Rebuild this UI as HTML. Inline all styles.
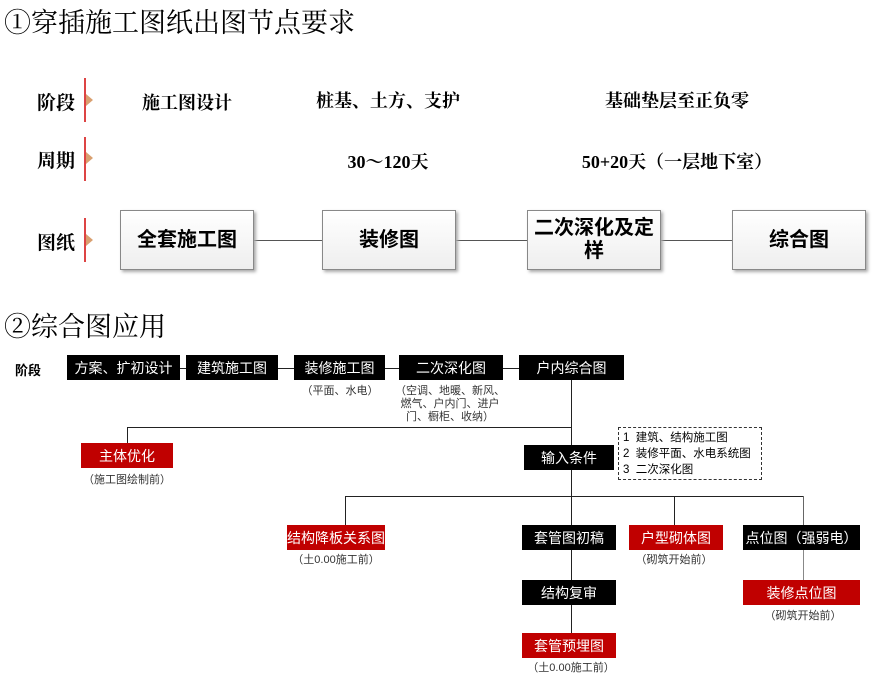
<!DOCTYPE html>
<html><head><meta charset="utf-8"><style>
*{margin:0;padding:0;box-sizing:border-box}
body{width:878px;height:682px;background:#fff;position:relative;overflow:hidden;font-family:"Liberation Sans","Noto Sans CJK SC",sans-serif;color:#000}
.a{position:absolute;white-space:nowrap}
.serif{font-family:"Liberation Serif","Noto Serif CJK SC",serif}
.t{font-size:27px;font-family:"Liberation Serif","Noto Serif CJK SC",serif}
.lab{font-size:19px;font-family:"Liberation Serif","Noto Serif CJK SC",serif;font-weight:bold}
.rl{position:absolute;width:2px;background:#d44;left:84px}
.tri{position:absolute;left:86px;width:0;height:0;border-top:6px solid transparent;border-bottom:6px solid transparent;border-left:7px solid #d9a070}
.c{transform:translateX(-50%);font-size:18px;font-weight:bold}
.bx{position:absolute;border:1px solid #888;background:linear-gradient(#fff,#eee);box-shadow:2px 2px 3px #aaa;display:flex;align-items:center;justify-content:center;text-align:center;font-weight:bold;font-size:20px;line-height:23px;top:210px;height:60px;width:134px}
.k{position:absolute;background:#000;color:#fff;font-size:14px;display:flex;align-items:center;justify-content:center;height:25px;white-space:nowrap}
.r{background:#c00000}
.n{position:absolute;font-size:11px;color:#333;transform:translateX(-50%);white-space:nowrap;text-align:center;line-height:13px}
.h{position:absolute;height:1px;background:#222}
.v{position:absolute;width:1px;background:#222}
</style></head><body>
<div class="a t" style="left:4px;top:1px">①穿插施工图纸出图节点要求</div>
<div class="a lab" style="left:37px;top:88px">阶段</div>
<div class="a lab" style="left:37px;top:146px">周期</div>
<div class="a lab" style="left:37px;top:228px">图纸</div>
<div class="rl" style="top:78px;height:44px"></div><div class="tri" style="top:94px"></div>
<div class="rl" style="top:137px;height:44px"></div><div class="tri" style="top:152px"></div>
<div class="rl" style="top:218px;height:44px"></div><div class="tri" style="top:234px"></div>
<div class="a serif c" style="left:187px;top:89px">施工图设计</div>
<div class="a serif c" style="left:388px;top:87px">桩基、土方、支护</div>
<div class="a serif c" style="left:677px;top:87px">基础垫层至正负零</div>
<div class="a serif c" style="left:388px;top:148px">30～120天</div>
<div class="a serif c" style="left:677px;top:148px">50+20天（一层地下室）</div>
<div class="h" style="left:250px;width:485px;top:240px;background:#555"></div>
<div class="bx" style="left:120px">全套施工图</div>
<div class="bx" style="left:322px">装修图</div>
<div class="bx" style="left:527px">二次深化及定<br>样</div>
<div class="bx" style="left:732px">综合图</div>

<div class="a t" style="left:4px;top:305px">②综合图应用</div>
<div class="a" style="left:15px;top:360px;font-size:13px;font-weight:bold">阶段</div>
<div class="h" style="left:175px;width:350px;top:368px"></div>
<div class="k" style="left:67px;top:355px;width:113px">方案、扩初设计</div>
<div class="k" style="left:186px;top:355px;width:92px">建筑施工图</div>
<div class="k" style="left:294px;top:355px;width:91px">装修施工图</div>
<div class="k" style="left:399px;top:355px;width:104px">二次深化图</div>
<div class="k" style="left:519px;top:355px;width:105px">户内综合图</div>
<div class="n" style="left:340px;top:385px">（平面、水电）</div>
<div class="n" style="left:450px;top:385px">（空调、地暖、新风、<br>燃气、户内门、进户<br>门、橱柜、收纳）</div>
<div class="v" style="left:571px;top:380px;height:116px"></div>
<div class="h" style="left:127px;width:444px;top:427px"></div>
<div class="v" style="left:127px;top:427px;height:16px"></div>
<div class="k r" style="left:81px;top:443px;width:92px">主体优化</div>
<div class="n" style="left:127px;top:474px">（施工图绘制前）</div>
<div class="k" style="left:524px;top:445px;width:90px">输入条件</div>
<div class="a" style="left:618px;top:427px;width:144px;height:53px;border:1.5px dashed #333;font-size:11.5px;line-height:16px;padding:2px 0 0 4px">1&nbsp; 建筑、结构施工图<br>2&nbsp; 装修平面、水电系统图<br>3&nbsp; 二次深化图</div>
<div class="h" style="left:345px;width:459px;top:496px"></div>
<div class="v" style="left:345px;top:496px;height:29px"></div>
<div class="v" style="left:674px;top:496px;height:29px"></div>
<div class="v" style="left:803px;top:496px;height:29px;background:#666"></div>
<div class="v" style="left:571px;top:496px;height:137px"></div>
<div class="v" style="left:803px;top:550px;height:30px;background:#888"></div>
<div class="k r" style="left:287px;top:525px;width:98px">结构降板关系图</div>
<div class="k" style="left:522px;top:525px;width:94px">套管图初稿</div>
<div class="k r" style="left:629px;top:525px;width:94px">户型砌体图</div>
<div class="k" style="left:743px;top:525px;width:117px">点位图（强弱电）</div>
<div class="n" style="left:336px;top:554px">（土0.00施工前）</div>
<div class="n" style="left:674px;top:554px">（砌筑开始前）</div>
<div class="k" style="left:522px;top:580px;width:94px">结构复审</div>
<div class="k r" style="left:743px;top:580px;width:117px">装修点位图</div>
<div class="n" style="left:803px;top:610px">（砌筑开始前）</div>
<div class="k r" style="left:522px;top:633px;width:94px">套管预埋图</div>
<div class="n" style="left:571px;top:662px">（土0.00施工前）</div>
</body></html>
